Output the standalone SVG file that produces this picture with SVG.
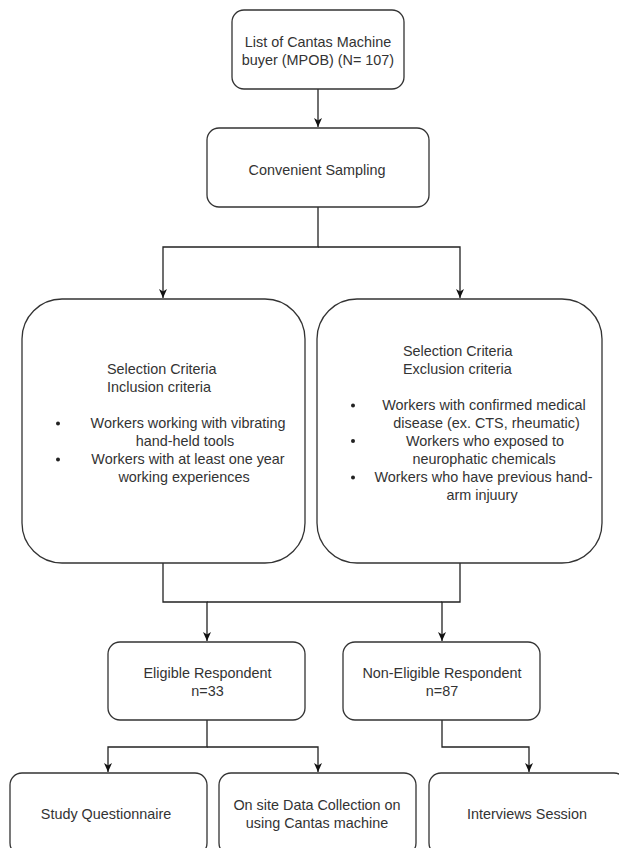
<svg xmlns="http://www.w3.org/2000/svg" width="619" height="848" viewBox="0 0 619 848">
<style>
.box{fill:#fff;stroke:#333;stroke-width:1.3}
.t{font-family:"Liberation Sans",Arial,sans-serif;font-size:14.4px;fill:#333;text-anchor:middle}
.s{text-anchor:start}
.c{fill:none;stroke:#222;stroke-width:1.3}
.b{fill:#222}
</style>
<defs>
<marker id="ah" markerWidth="10" markerHeight="10" refX="9" refY="5" orient="auto" markerUnits="userSpaceOnUse">
<path d="M0,1 L9,5 L0,9 L2.5,5 Z" fill="#111"/>
</marker>
</defs>
<rect width="619" height="848" fill="#fff"/>
<g id="connectors">
<path class="c" d="M318,89 V127" marker-end="url(#ah)"/>
<path class="c" d="M318,207 V247 H163 V298" marker-end="url(#ah)"/>
<path class="c" d="M318,247 H460 V298" marker-end="url(#ah)"/>
<path class="c" d="M163,563 V602 H207 V641" marker-end="url(#ah)"/>
<path class="c" d="M460,563 V602 H442 V641" marker-end="url(#ah)"/>
<path class="c" d="M207,602 H442"/>
<path class="c" d="M207,720 V747 H108 V772" marker-end="url(#ah)"/>
<path class="c" d="M207,747 H318 V772" marker-end="url(#ah)"/>
<path class="c" d="M442,720 V747 H529 V772" marker-end="url(#ah)"/>
</g>
<g id="n1">
<rect class="box" x="232" y="10" width="172" height="79" rx="12"/>
<text class="t" x="318" y="47">List of Cantas Machine</text>
<text class="t" x="318" y="65">buyer (MPOB) (N= 107)</text>
</g>
<g id="n2">
<rect class="box" x="207" y="128" width="222" height="79" rx="12"/>
<text class="t" x="317" y="175">Convenient Sampling</text>
</g>
<g id="n3">
<rect class="box" x="22" y="299" width="283" height="264" rx="40"/>
<text class="t s" x="107" y="374">Selection Criteria</text>
<text class="t s" x="107" y="392">Inclusion criteria</text>
<circle class="b" cx="58" cy="423.5" r="2"/>
<text class="t" x="188" y="428">Workers working with vibrating</text>
<text class="t" x="185" y="446">hand-held tools</text>
<circle class="b" cx="58" cy="459.5" r="2"/>
<text class="t" x="188" y="464">Workers with at least one year</text>
<text class="t" x="184" y="482">working experiences</text>
</g>
<g id="n4">
<rect class="box" x="317" y="299" width="285" height="264" rx="40"/>
<text class="t s" x="403" y="356">Selection Criteria</text>
<text class="t s" x="403" y="374">Exclusion criteria</text>
<circle class="b" cx="353" cy="405.5" r="2"/>
<text class="t" x="484" y="409.5">Workers with confirmed medical</text>
<text class="t" x="486.5" y="427.5">disease (ex. CTS, rheumatic)</text>
<circle class="b" cx="353" cy="441" r="2"/>
<text class="t" x="485" y="445.5">Workers who exposed to</text>
<text class="t" x="484" y="463.5">neurophatic chemicals</text>
<circle class="b" cx="353" cy="477.5" r="2"/>
<text class="t" x="483.5" y="481.5">Workers who have previous hand-</text>
<text class="t" x="482" y="499.5">arm injuury</text>
</g>
<g id="n5">
<rect class="box" x="108" y="642" width="197" height="78" rx="12"/>
<text class="t" x="207.5" y="678">Eligible Respondent</text>
<text class="t" x="207.5" y="696">n=33</text>
</g>
<g id="n6">
<rect class="box" x="343" y="642" width="197" height="78" rx="12"/>
<text class="t" x="442" y="678">Non-Eligible Respondent</text>
<text class="t" x="442" y="696">n=87</text>
</g>
<g id="n7">
<rect class="box" x="10" y="773" width="197" height="82" rx="12"/>
<text class="t" x="106" y="818.5">Study Questionnaire</text>
</g>
<g id="n8">
<rect class="box" x="219" y="773" width="197" height="82" rx="12"/>
<text class="t" x="317" y="810">On site Data Collection on</text>
<text class="t" x="317" y="828">using Cantas machine</text>
</g>
<g id="n9">
<rect class="box" x="429" y="773" width="197" height="82" rx="12"/>
<text class="t" x="527" y="818.5">Interviews Session</text>
</g>
</svg>
